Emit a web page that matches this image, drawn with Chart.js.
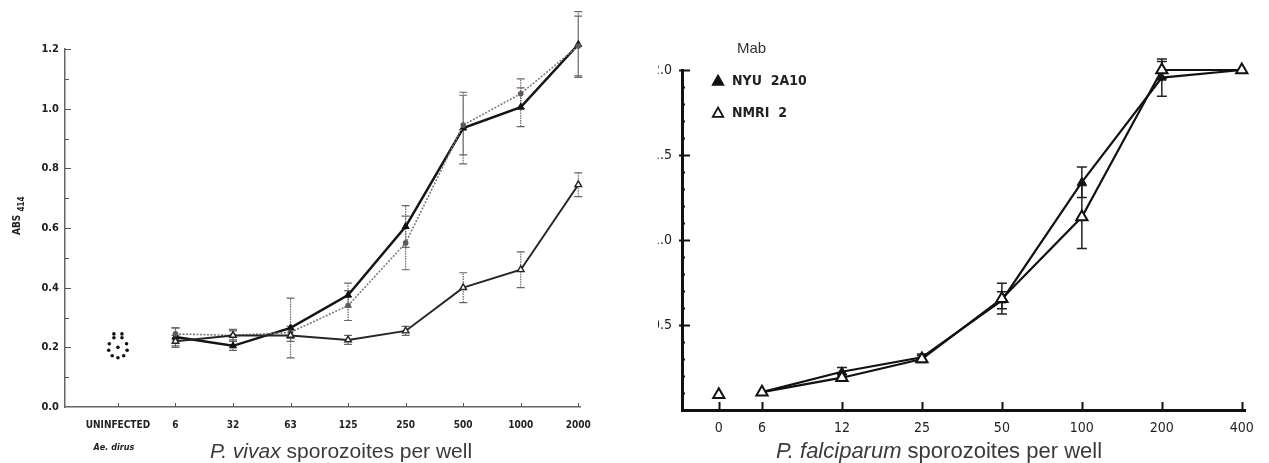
<!DOCTYPE html>
<html>
<head>
<meta charset="utf-8">
<script src="https://cdn.jsdelivr.net/npm/chart.js@4.4.1/dist/chart.umd.min.js"></script>
<style>
  html, body { margin: 0; padding: 0; background: #fff; }
  body { width: 1269px; height: 463px; position: relative; overflow: hidden; }
  #leftBox { position: absolute; left: 0; top: 0; width: 612px; height: 463px; }
  #rightBox { position: absolute; left: 658px; top: 0; width: 611px; height: 463px; }
</style>
</head>
<body>
<div id="leftBox"><canvas id="vivaxChart" width="612" height="463"></canvas></div>
<div id="rightBox"><canvas id="falcChart" width="611" height="463"></canvas></div>

<script>
// --- DATA: P. vivax (left panel) ---
const vivaxCats = ['UNINFECTED', '6', '32', '63', '125', '250', '500', '1000', '2000'];
const vivaxA    = [0.235, 0.205, 0.265, 0.375, 0.605, 0.935, 1.005, 1.215];
const vivaxAErr = [0.03, 0.015, 0.10, 0.04, 0.07, 0.12, 0.065, 0.11];
const vivaxB    = [0.245, 0.24, 0.25, 0.34, 0.55, 0.945, 1.05, 1.21];
const vivaxBErr = [0.02, 0.015, 0.02, 0.05, 0.09, 0.10, 0.05, 0.10];
const vivaxC    = [0.22, 0.24, 0.24, 0.225, 0.255, 0.40, 0.46, 0.745];
const vivaxCErr = [0.02, 0.02, 0.02, 0.015, 0.015, 0.05, 0.06, 0.04];
// uninfected wells (Ae. dirus), small cluster of readings
const uninfX = [-0.07, 0.07, -0.07, 0.07, -0.15, 0.15, -0.16, 0.16, -0.10, 0.10, 0, 0];
const uninfY = [0.245, 0.245, 0.232, 0.232, 0.212, 0.212, 0.19, 0.19, 0.172, 0.172, 0.165, 0.2];
const vivaxTicks = [0, 0.2, 0.4, 0.6, 0.8, 1.0, 1.2];

// --- DATA: P. falciparum (right panel) ---
const falcCats = ['0', '6', '12', '25', '50', '100', '200', '400'];
const zeroPos  = 0.46;   // "0" sits between the axis and the "6" category
const nyu      = [null, 0.105, 0.225, 0.31, 0.645, 1.34, 1.955, 2.0];
const nyuErr   = [0, 0, 0.025, 0.02, 0.05, 0.09, 0.11, 0];
const nmri     = [0.09, 0.105, 0.19, 0.30, 0.655, 1.135, 2.0, 2.0];
const nmriErr  = [0, 0, 0.02, 0.02, 0.09, 0.185, 0.05, 0];
const falcTicks = [0.5, 1.0, 1.5, 2.0];

const condensed = "'DejaVu Sans Condensed', 'Liberation Sans Narrow', 'DejaVu Sans', sans-serif";
const sans = "'Liberation Sans', Arial, sans-serif";

const vivaxX = vivaxCats.map((c, i) => i);
const falcX = falcCats.map((c, i) => i === 0 ? zeroPos : i);
const pts = (xs, ys) => ys.map((v, i) => ({ x: xs[i], y: v }));

// --- PLUGINS ---
const errorBars = {
    id: 'errorBars',
    beforeDatasetsDraw(chart, args, opts) {
        const { ctx, scales } = chart;
        chart.data.datasets.forEach(ds => {
            if (!ds.errors) return;
            ctx.save();
            ctx.strokeStyle = opts.color;
            ctx.lineWidth = opts.width;
            ds.data.forEach((p, i) => {
                const e = ds.errors[i];
                if (p.y == null || !e) return;
                const x = scales.x.getPixelForValue(p.x);
                const y1 = scales.y.getPixelForValue(p.y - e);
                const y2 = scales.y.getPixelForValue(p.y + e);
                ctx.setLineDash(opts.dash || []);
                ctx.beginPath();
                ctx.moveTo(x, y1); ctx.lineTo(x, y2);
                ctx.stroke();
                ctx.setLineDash([]);
                ctx.beginPath();
                ctx.moveTo(x - opts.cap, y1); ctx.lineTo(x + opts.cap, y1);
                ctx.moveTo(x - opts.cap, y2); ctx.lineTo(x + opts.cap, y2);
                ctx.stroke();
            });
            ctx.restore();
        });
    }
};

const inTicks = {
    id: 'inTicks',
    afterDraw(chart, args, o) {
        const { ctx, chartArea: a, scales } = chart;
        ctx.save();
        ctx.strokeStyle = o.color;
        ctx.lineWidth = o.width;
        const ys = scales.y;
        const n = Math.round((ys.max - ys.min) / o.yMinor);
        for (let k = 1; k <= n; k++) {
            const v = ys.min + k * o.yMinor;
            const r = v / o.yMajor;
            const major = Math.abs(r - Math.round(r)) < 1e-6;
            const y = Math.round(ys.getPixelForValue(v)) + 0.5;
            ctx.beginPath();
            ctx.moveTo(a.left - (major ? o.yOut : 0), y);
            ctx.lineTo(a.left + (major ? o.yLen : o.yMinorLen), y);
            ctx.stroke();
        }
        scales.x.ticks.forEach(t => {
            const x = Math.round(scales.x.getPixelForValue(t.value)) + 0.5;
            ctx.beginPath();
            ctx.moveTo(x, a.bottom);
            ctx.lineTo(x, a.bottom - o.xLen);
            ctx.stroke();
        });
        ctx.restore();
    }
};

function mixedTitle(ctx, italicPart, rest, cx, baseline, size) {
    ctx.font = 'italic ' + size + 'px ' + sans;
    const w1 = ctx.measureText(italicPart).width;
    ctx.font = size + 'px ' + sans;
    const w2 = ctx.measureText(rest).width;
    const x = cx - (w1 + w2) / 2;
    ctx.font = 'italic ' + size + 'px ' + sans;
    ctx.fillText(italicPart, x, baseline);
    ctx.font = size + 'px ' + sans;
    ctx.fillText(rest, x + w1, baseline);
}

const vivaxText = {
    id: 'vivaxText',
    afterDraw(chart) {
        const { ctx } = chart;
        ctx.save();
        ctx.fillStyle = '#3a3a3a';
        ctx.textBaseline = 'alphabetic';
        mixedTitle(ctx, 'P. vivax', ' sporozoites per well', 341, 458, 21);
        // vector under UNINFECTED
        ctx.fillStyle = '#222';
        ctx.font = 'italic bold 9px ' + condensed;
        ctx.textAlign = 'center';
        ctx.fillText('Ae. dirus', chart.scales.x.getPixelForValue(0) - 4, 450);
        // y axis title
        ctx.translate(20, 235);
        ctx.rotate(-Math.PI / 2);
        ctx.textAlign = 'left';
        ctx.font = 'bold 10px ' + condensed;
        ctx.fillText('ABS', 0, 0);
        const wa = ctx.measureText('ABS ').width;
        ctx.font = 'bold 8px ' + condensed;
        ctx.fillText('414', wa, 4);
        ctx.restore();
    }
};

const falcText = {
    id: 'falcText',
    afterDraw(chart) {
        const { ctx, chartArea: a } = chart;
        ctx.save();
        ctx.fillStyle = '#3a3a3a';
        ctx.textBaseline = 'alphabetic';
        mixedTitle(ctx, 'P. falciparum', ' sporozoites per well', 939 - 658, 458, 22);

        // legend
        ctx.fillStyle = '#333';
        ctx.font = '15px ' + sans;
        ctx.textBaseline = 'middle';
        ctx.fillText('Mab', a.left + 55, 49);
        const items = [
            { text: 'NYU  2A10', fill: '#111', y: 81 },
            { text: 'NMRI  2', fill: '#fff', y: 113 }
        ];
        items.forEach(it => {
            const r = 5.5, tx = a.left + 36, ty = it.y;
            ctx.save();
            ctx.fillStyle = it.fill;
            ctx.strokeStyle = '#111';
            ctx.lineWidth = 1.8;
            ctx.beginPath();
            ctx.moveTo(tx, ty - r);
            ctx.lineTo(tx + r * 0.95, ty + r * 0.7);
            ctx.lineTo(tx - r * 0.95, ty + r * 0.7);
            ctx.closePath();
            ctx.fill();
            ctx.stroke();
            ctx.restore();
            ctx.fillStyle = '#222';
            ctx.font = 'bold 14px ' + condensed;
            ctx.fillText(it.text, a.left + 50, it.y);
        });
        ctx.restore();
    }
};

Chart.defaults.animation = false;
Chart.defaults.font.family = condensed;

// --- 1. P. VIVAX CHART ---
new Chart(document.getElementById('vivaxChart'), {
    type: 'scatter',
    data: {
        datasets: [
            {
                label: 'Uninfected',
                data: pts(uninfX, uninfY),
                showLine: false,
                pointRadius: 1.8,
                pointBackgroundColor: '#111',
                pointBorderWidth: 0
            },
            {
                label: 'Series C',
                data: pts(vivaxX.slice(1), vivaxC),
                errors: vivaxCErr,
                showLine: true,
                clip: false,
                borderColor: '#262626',
                borderWidth: 2,
                pointStyle: 'triangle',
                pointRadius: 3.8,
                pointBackgroundColor: '#fff',
                pointBorderColor: '#222',
                pointBorderWidth: 1.4
            },
            {
                label: 'Series B',
                data: pts(vivaxX.slice(1), vivaxB),
                errors: vivaxBErr,
                showLine: true,
                clip: false,
                borderColor: '#85777f',
                borderWidth: 1.6,
                borderDash: [2, 1.5],
                pointStyle: 'circle',
                pointRadius: 2.8,
                pointBackgroundColor: '#5f595c',
                pointBorderWidth: 0
            },
            {
                label: 'Series A',
                data: pts(vivaxX.slice(1), vivaxA),
                errors: vivaxAErr,
                showLine: true,
                clip: false,
                borderColor: '#151515',
                borderWidth: 2.5,
                pointStyle: 'triangle',
                pointRadius: 4,
                pointBackgroundColor: '#111',
                pointBorderColor: '#111',
                pointBorderWidth: 1
            }
        ]
    },
    options: {
        responsive: false,
        layout: { padding: { top: 49, right: 32, left: 0, bottom: 0 } },
        plugins: {
            legend: { display: false },
            tooltip: { enabled: false },
            errorBars: { color: '#6f6369', width: 1.2, cap: 4, dash: [1.5, 1] },
            inTicks: { color: '#555', width: 1, yMinor: 0.1, yMajor: 0.2, yLen: 6, yMinorLen: 4, yOut: 0, xLen: 4 }
        },
        scales: {
            x: {
                type: 'linear',
                min: -0.92,
                max: 8.03,
                afterFit: s => { s.height = 56; },
                afterBuildTicks: s => { s.ticks = vivaxX.map(v => ({ value: v })); },
                grid: { display: false, drawTicks: false },
                border: { display: true, color: '#666', width: 1.5 },
                ticks: {
                    autoSkip: false,
                    maxRotation: 0,
                    padding: 12,
                    color: '#222',
                    font: { size: 10, weight: 'bold' },
                    callback: (v, i) => vivaxCats[i]
                }
            },
            y: {
                min: 0,
                max: 1.2,
                afterFit: s => { s.width = 65; },
                afterBuildTicks: s => { s.ticks = vivaxTicks.map(v => ({ value: v })); },
                grid: { display: false, drawTicks: false },
                border: { display: true, color: '#666', width: 1.5 },
                ticks: {
                    padding: 6,
                    color: '#222',
                    font: { size: 11, weight: 'bold' },
                    callback: v => v.toFixed(1)
                }
            }
        }
    },
    plugins: [errorBars, inTicks, vivaxText]
});

// --- 2. P. FALCIPARUM CHART ---
new Chart(document.getElementById('falcChart'), {
    type: 'scatter',
    data: {
        datasets: [
            {
                label: 'NMRI 2',
                data: pts(falcX, nmri),
                errors: nmriErr,
                showLine: true,
                clip: false,
                borderColor: '#111',
                borderWidth: 2.2,
                segment: { borderColor: c => c.p0DataIndex === 0 ? 'rgba(0,0,0,0)' : '#111' },
                pointStyle: 'triangle',
                pointRadius: 6.5,
                pointBackgroundColor: '#fff',
                pointBorderColor: '#111',
                pointBorderWidth: 2
            },
            {
                label: 'NYU 2A10',
                data: pts(falcX, nyu),
                errors: nyuErr,
                showLine: true,
                clip: false,
                borderColor: '#111',
                borderWidth: 2.2,
                pointStyle: 'triangle',
                pointRadius: 5,
                pointBackgroundColor: '#111',
                pointBorderColor: '#111',
                pointBorderWidth: 1
            }
        ]
    },
    options: {
        responsive: false,
        layout: { padding: { top: 70, right: 24, left: 0, bottom: 0 } },
        plugins: {
            legend: { display: false },
            tooltip: { enabled: false },
            errorBars: { color: '#222', width: 1.5, cap: 5 },
            inTicks: { color: '#111', width: 2, yMinor: 0.1, yMajor: 0.5, yLen: 8, yMinorLen: 3, yOut: 3, xLen: 8 }
        },
        scales: {
            x: {
                type: 'linear',
                min: 0,
                max: 7.04,
                afterFit: s => { s.height = 53; },
                afterBuildTicks: s => { s.ticks = falcX.map(v => ({ value: v })); },
                grid: { display: false, drawTicks: false },
                border: { display: true, color: '#111', width: 3 },
                ticks: {
                    autoSkip: false,
                    maxRotation: 0,
                    padding: 10,
                    color: '#222',
                    font: { size: 14 },
                    callback: (v, i) => falcCats[i]
                }
            },
            y: {
                min: 0,
                max: 2.0,
                afterFit: s => { s.width = 24; },
                afterBuildTicks: s => { s.ticks = falcTicks.map(v => ({ value: v })); },
                grid: { display: false, drawTicks: false },
                border: { display: true, color: '#111', width: 3 },
                ticks: {
                    padding: 10,
                    color: '#222',
                    font: { size: 14 },
                    callback: v => v.toFixed(1)
                }
            }
        }
    },
    plugins: [errorBars, inTicks, falcText]
});
</script>
</body>
</html>
